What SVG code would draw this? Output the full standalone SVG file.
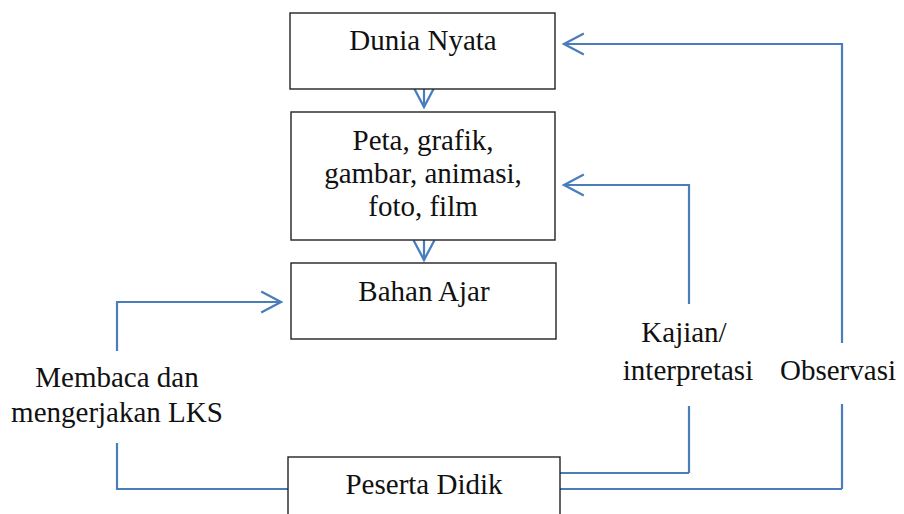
<svg xmlns="http://www.w3.org/2000/svg" width="904" height="514" viewBox="0 0 904 514">
<style>
.box{fill:#fff;stroke:#222;stroke-width:1.4}
.t{font-family:"Liberation Serif","Times New Roman",serif;font-size:29px;fill:#111;text-anchor:middle}
.c{fill:none;stroke:#4a7ebb;stroke-width:2.2;marker-end:url(#ah)}
.cn{fill:none;stroke:#4a7ebb;stroke-width:2.2}
</style>
<defs>
<marker id="ah" markerUnits="userSpaceOnUse" markerWidth="24" markerHeight="26" viewBox="-21 -12 23 24" refX="0" refY="0" orient="auto" overflow="visible">
<path d="M-19,-10 L0,0 L-19,10" fill="none" stroke="#4a7ebb" stroke-width="2.2"/>
</marker>
</defs>
<rect width="904" height="514" fill="#fff"/>
<g id="connectors">
<path class="c" d="M424,89 L424,107"/>
<path class="c" d="M424,240 L424,260"/>
<path class="cn" d="M842,489 L560,489"/>
<path class="cn" d="M842,489 L842,404"/>
<path class="c" d="M842,343 L842,44 L564,44"/>
<path class="cn" d="M689,473 L560,473"/>
<path class="cn" d="M689,473 L689,406"/>
<path class="c" d="M689,304 L689,185 L564,185"/>
<path class="cn" d="M288,489 L117,489 L117,443"/>
<path class="c" d="M117,351 L117,302 L281,302"/>
</g>
<g id="dunia-nyata">
<rect class="box" x="290" y="13" width="265" height="76"/>
<text class="t" x="423" y="50">Dunia Nyata</text>
</g>
<g id="peta-grafik">
<rect class="box" x="291" y="112" width="264" height="128"/>
<text class="t" x="423" y="150">Peta, grafik,</text>
<text class="t" x="423" y="183">gambar, animasi,</text>
<text class="t" x="423" y="216">foto, film</text>
</g>
<g id="bahan-ajar">
<rect class="box" x="291" y="263" width="265" height="76"/>
<text class="t" x="424" y="301">Bahan Ajar</text>
</g>
<g id="peserta-didik">
<rect class="box" x="288" y="457" width="272" height="70"/>
<text class="t" x="424" y="494">Peserta Didik</text>
</g>
<g id="label-membaca">
<text class="t" x="117" y="387">Membaca dan</text>
<text class="t" x="117" y="422">mengerjakan LKS</text>
</g>
<g id="label-kajian">
<text class="t" x="684" y="342">Kajian/</text>
<text class="t" x="688" y="380">interpretasi</text>
</g>
<g id="label-observasi">
<text class="t" x="838" y="380">Observasi</text>
</g>
</svg>
